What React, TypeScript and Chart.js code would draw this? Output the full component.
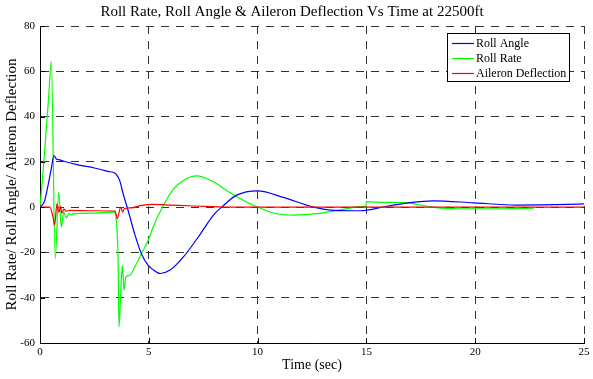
import React, { useEffect, useRef } from "react";
import { Chart, registerables } from "chart.js";

Chart.register(...registerables);

const FONT = "'Liberation Serif', 'Times New Roman', Times, serif";

const chartTitle = "Roll Rate, Roll Angle & Aileron Deflection Vs Time at 22500ft";
const xTitle = "Time (sec)";
const yTitle = "Roll Rate/ Roll Angle/ Aileron Deflection";
const seriesLabels = ["Roll Angle", "Roll Rate", "Aileron Deflection"];
const seriesColors = ["#0000ff", "#00ff00", "#ff0000"];

const xMin = 0;
const xMax = 25;
const xStep = 5;
const yMin = -60;
const yMax = 80;
const yStep = 20;

const rollAngleTime = [0, 0.2, 0.37, 0.52, 0.64, 0.75, 0.9, 1.06, 1.75, 2.5, 3.13, 3.45, 3.51, 3.66, 3.82, 4.05, 4.35, 4.66, 4.97, 5.2, 5.52, 5.98, 6.59, 7.36, 7.97, 8.35, 9.04, 10.0, 11.19, 12.57, 13.49, 14.7, 15.94, 17.0, 18.08, 19.92, 21.9, 23.0, 25.0];
const rollAngle = [0, 2.5, 9.6, 17, 22.8, 21.3, 20.9, 20.4, 18.7, 17.3, 15.8, 15.0, 14.4, 11.8, 5.9, -1.5, -11.8, -20.6, -25.7, -27.6, -29.3, -27.8, -22, -12, -3.5, 0, 5.3, 7.2, 4.3, 0, -1.4, -1.6, 0.4, 2.0, 2.8, 1.9, 0.9, 1.0, 1.4];

const rollRateTime = [0, 0.1, 0.2, 0.3, 0.4, 0.52, 0.7, 0.86, 0.98, 1.09, 1.21, 1.32, 1.44, 1.6, 2.5, 3.43, 3.5, 3.59, 3.63, 3.71, 3.79, 3.86, 3.94, 4.12, 4.35, 4.66, 4.97, 5.2, 5.6, 6.13, 6.59, 7.2, 7.97, 8.58, 9.2, 10.0, 10.73, 11.65, 12.72, 13.8, 14.85, 14.97, 15.0, 15.9, 16.8, 17.78, 18.4, 19.6, 21.0, 22.7];
const rollRate = [0, 11, 23, 36, 49, 64.4, -22.8, 6.6, -8.8, -2.2, -4.8, -2.9, -3.3, -2.9, -2.6, -2.2, -5, -23.5, -53, -38, -25.7, -36.7, -30.9, -30.1, -26.5, -20.6, -14.7, -8.8, -0.5, 8, 11.8, 13.8, 11.2, 7.4, 3.7, 0, -2.6, -3.5, -2.9, -1.2, 0.3, 0.4, 2.4, 2.1, 2.0, 0.3, -0.4, -0.7, -0.7, -0.4];

const aileronTime = [0, 0.45, 0.6, 0.67, 0.78, 0.87, 0.95, 1.0, 1.1, 1.2, 1.4, 2.5, 3.45, 3.55, 3.71, 3.8, 3.88, 4.2, 4.66, 5.2, 6.0, 7.0, 8.0, 9.0, 25.0];
const aileron = [0, 0, -4.4, -8.1, 1.5, -2.2, 0.4, -2.7, -0.9, -1.8, -1.4, -1.6, -1.75, -5.1, 0, -2.2, -0.7, -0.3, 0.75, 1.2, 0.9, 0.5, 0.2, 0, 0];

const toPoints = (t: number[], v: number[]) => t.map((x, i) => ({ x, y: v[i] }));

const inwardTicks = {
  id: "inwardTicks",
  afterDatasetsDraw(chart: any) {
    const { ctx, chartArea, scales } = chart;
    ctx.save();
    ctx.strokeStyle = "#000";
    ctx.lineWidth = 1;
    ctx.beginPath();
    scales.x.ticks.forEach((t: any) => {
      const x = Math.round(scales.x.getPixelForValue(t.value)) + 0.5;
      ctx.moveTo(x, chartArea.bottom);
      ctx.lineTo(x, chartArea.bottom - 5);
    });
    scales.y.ticks.forEach((t: any) => {
      const y = Math.round(scales.y.getPixelForValue(t.value)) + 0.5;
      ctx.moveTo(chartArea.left, y);
      ctx.lineTo(chartArea.left + 5, y);
    });
    ctx.stroke();
    ctx.restore();
  },
};

const boxLegend = {
  id: "boxLegend",
  afterDraw(chart: any) {
    const { ctx, chartArea } = chart;
    const w = 122;
    const h = 48;
    const x0 = Math.round(chartArea.right - 15 - w);
    const y0 = Math.round(chartArea.top + 7);
    ctx.save();
    ctx.fillStyle = "#fff";
    ctx.fillRect(x0, y0, w, h);
    ctx.strokeStyle = "#000";
    ctx.lineWidth = 1;
    ctx.strokeRect(x0 + 0.5, y0 + 0.5, w, h);
    ctx.font = `12px ${FONT}`;
    ctx.textBaseline = "middle";
    ctx.textAlign = "left";
    chart.data.datasets.forEach((ds: any, i: number) => {
      const cy = y0 + 10 + i * 15;
      ctx.strokeStyle = ds.borderColor;
      ctx.lineWidth = 1.2;
      ctx.beginPath();
      ctx.moveTo(x0 + 5, cy + 0.5);
      ctx.lineTo(x0 + 27, cy + 0.5);
      ctx.stroke();
      ctx.fillStyle = "#000";
      ctx.fillText(ds.label, x0 + 29, cy + 1);
    });
    ctx.restore();
  },
};

export default function App() {
  const ref = useRef<HTMLCanvasElement | null>(null);

  useEffect(() => {
    if (!ref.current) return;
    Chart.defaults.font.family = FONT;
    Chart.defaults.color = "#000";
    const series = [
      { t: rollAngleTime, v: rollAngle, order: 1 },
      { t: rollRateTime, v: rollRate, order: 2 },
      { t: aileronTime, v: aileron, order: 0 },
    ];
    const chart = new Chart(ref.current, {
      type: "line",
      data: {
        datasets: series.map((s, i) => ({
          label: seriesLabels[i],
          data: toPoints(s.t, s.v),
          borderColor: seriesColors[i],
          backgroundColor: seriesColors[i],
          borderWidth: 1.2,
          pointRadius: 0,
          fill: false,
          cubicInterpolationMode: "monotone" as const,
          order: s.order,
        })),
      },
      options: {
        responsive: false,
        animation: false,
        layout: { padding: { left: 0, right: 9, top: 0, bottom: 0 } },
        plugins: {
          legend: { display: false },
          tooltip: { enabled: false },
          title: {
            display: true,
            text: chartTitle,
            color: "#000",
            font: { family: FONT, size: 15, weight: "normal" },
            padding: { top: 3, bottom: 5 },
          },
        },
        scales: {
          x: {
            type: "linear",
            min: xMin,
            max: xMax,
            ticks: { stepSize: xStep, color: "#000", font: { family: FONT, size: 11 }, padding: 3, maxRotation: 0 },
            grid: { color: "#333", lineWidth: 1, drawTicks: false },
            border: { display: true, color: "#000", width: 1, dash: [8, 7] },
            title: { display: true, text: xTitle, color: "#000", font: { family: FONT, size: 14 }, padding: { top: 0, bottom: 5 } },
            afterFit: (s: any) => { s.height = 36; },
          },
          y: {
            type: "linear",
            min: yMin,
            max: yMax,
            ticks: { stepSize: yStep, color: "#000", font: { family: FONT, size: 11 }, padding: 5 },
            grid: { color: "#333", lineWidth: 1, drawTicks: false },
            border: { display: true, color: "#000", width: 1, dash: [8, 7] },
            title: { display: true, text: yTitle, color: "#000", font: { family: FONT, size: 15 }, padding: { top: 3, bottom: 0 } },
            afterFit: (s: any) => { s.width = 40; },
          },
        },
      },
      plugins: [inwardTicks, boxLegend],
    });
    return () => chart.destroy();
  }, []);

  return (
    <div style={{ position: "absolute", left: 0, top: 0, width: 593, height: 379, background: "#fff" }}>
      <canvas ref={ref} width={593} height={379} style={{ display: "block" }} />
    </div>
  );
}
